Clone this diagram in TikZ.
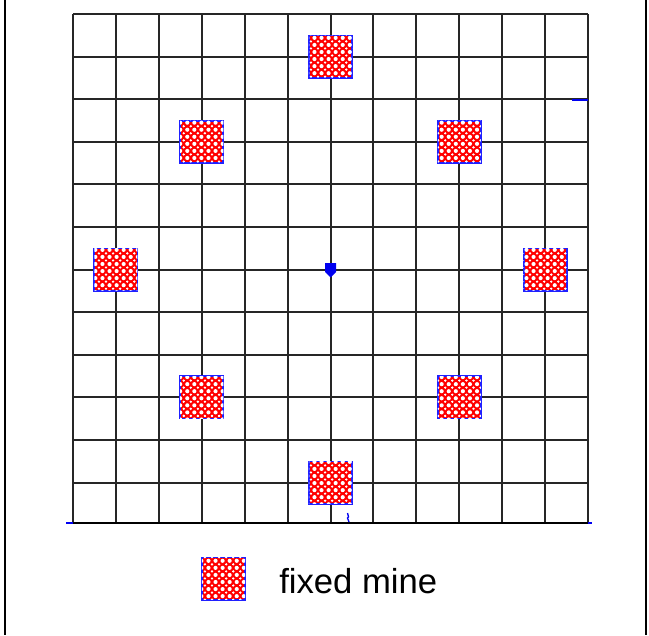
\documentclass[tikz,border=0pt]{standalone}
\usepackage{fontspec}
\setmainfont{Liberation Sans}
\usetikzlibrary{patterns, positioning}
\definecolor{cmine}{HTML}{FF0000}
\definecolor{cedge}{HTML}{2020FF}
\definecolor{cmark}{HTML}{0000F0}
\pgfdeclarepatternformonly{minedots}{\pgfpoint{-0.1pt}{-0.1pt}}{\pgfpoint{5.4pt}{5.4pt}}{\pgfpoint{5.3pt}{5.3pt}}{
  \pgfpathcircle{\pgfpoint{2.65pt}{2.65pt}}{1.55pt}
  \pgfpathcircle{\pgfpoint{0pt}{0pt}}{0.9pt}
  \pgfpathcircle{\pgfpoint{5.3pt}{0pt}}{0.9pt}
  \pgfpathcircle{\pgfpoint{0pt}{5.3pt}}{0.9pt}
  \pgfpathcircle{\pgfpoint{5.3pt}{5.3pt}}{0.9pt}
  \pgfusepath{fill}
}
\tikzset{
  gridline/.style={black!85, line width=1.5pt},
  mine/.style={draw=cedge, line width=1.4pt, fill=cmine, inner sep=0pt,
    minimum width=32.3pt, minimum height=31.6pt,
    postaction={pattern=minedots, pattern color=white}},
  blueline/.style={draw=cmark, line width=1.5pt},
  keytext/.style={font=\fontsize{26}{30}\selectfont, inner sep=0pt},
}

\begin{document}
\begin{tikzpicture}[x=0.75pt, y=-0.75pt]
  \useasboundingbox (0,0) rectangle (649,635);
  % side frame
  \draw[black, line width=1.6pt] (5,0) -- (5,635);
  \draw[black, line width=1.6pt] (646,0) -- (646,635);
  % 12 x 12 grid
  \foreach \i in {0,...,12} \draw[gridline] (73+\i*42.92,14) -- (73+\i*42.92,523);
  \foreach \j in {0,...,11} \draw[gridline] (73,14+\j*42.6) -- (588,14+\j*42.6);
  \draw[black, line width=1.8pt] (73,523) -- (588,523);
  % small blue marks
  \draw[blueline] (572,99.5) -- (588,99.5);
  \draw[blueline] (66,523) -- (73,523);
  \draw[blueline] (588,523) -- (592,523);
  \draw[blueline, line width=1pt] (347.5,513) -- (348.5,517) -- (347.5,518) -- (349,522);
  \fill[cmark] (325,263) rectangle (336,272) (325,272) -- (336,272) -- (330.5,277.5) -- cycle;
  % mines on the ring, at grid crossings
  \foreach \n/\c/\r in {1/6/1, 2/3/3, 3/9/3, 4/1/6, 5/11/6, 6/3/9, 7/9/9, 8/6/11}
    \node[mine] (m\n) at (73+\c*42.92,14+\r*42.6) {};
  % key
  \node[mine] (keymine) at (223.5,578.5) {};
  \node[keytext, anchor=base west] (keylabel) at (279,593) {fixed mine};
\end{tikzpicture}
\end{document}
